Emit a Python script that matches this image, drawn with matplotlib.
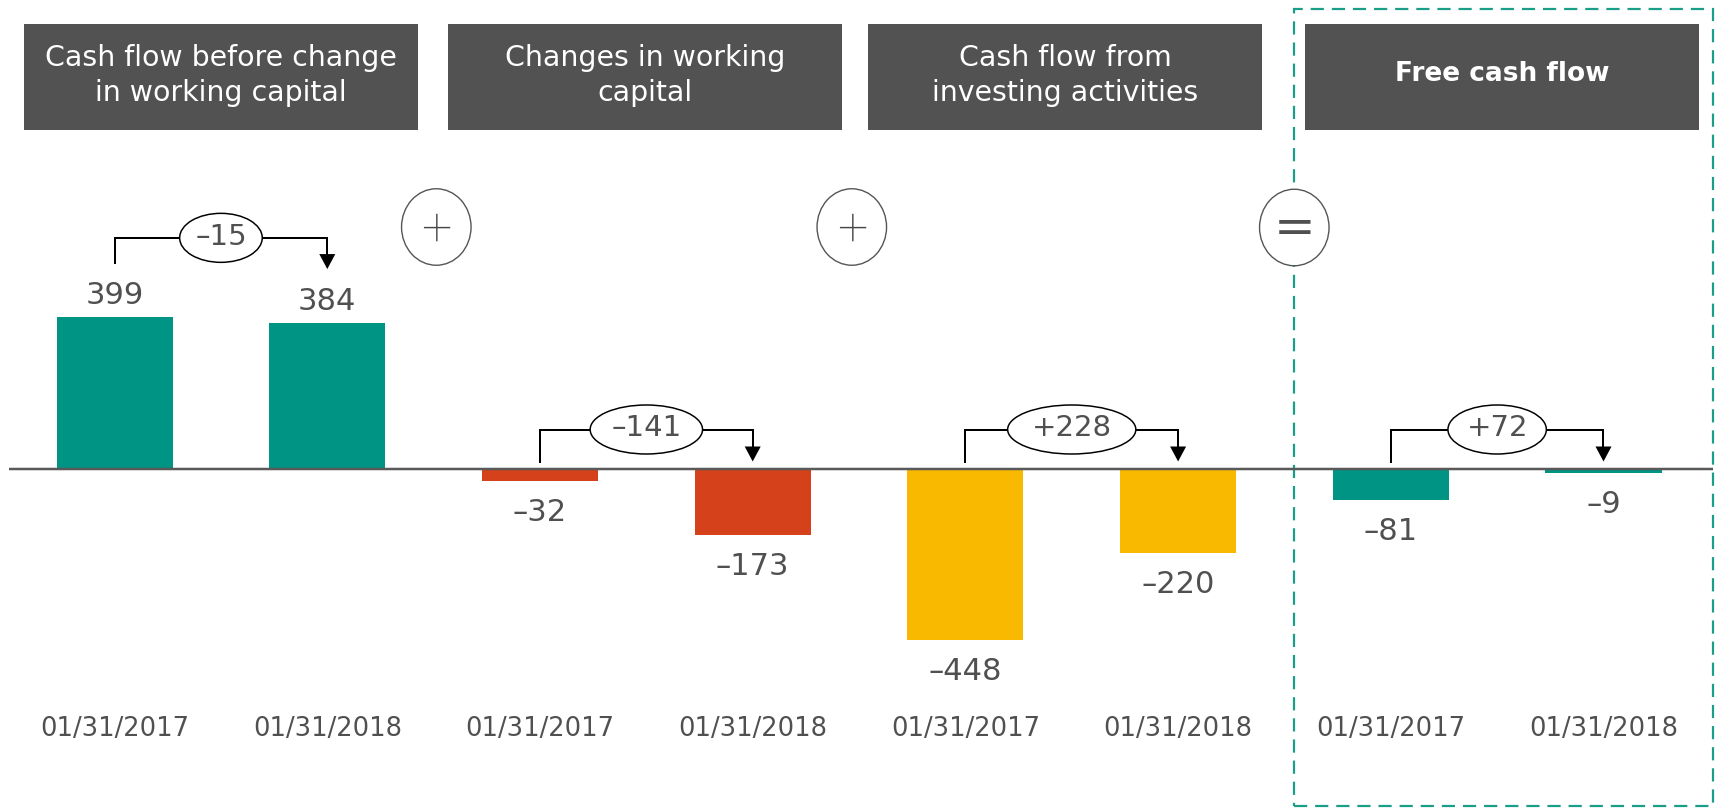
import matplotlib
matplotlib.use("Agg")
import matplotlib.pyplot as plt
from matplotlib.patches import Rectangle, Ellipse, Polygon

# ---------------- data ----------------
categories = ["Cash flow before change\nin working capital",
              "Changes in working\ncapital",
              "Cash flow from\ninvesting activities",
              "Free cash flow"]
periods = ["01/31/2017", "01/31/2018"]
values_2017 = [399, -32, -448, -81]
values_2018 = [384, -173, -220, -9]
operators = ["+", "+", "="]
group_colors = ["#009485", "#d5411a", "#f9b900", "#009485"]

# ---------------- layout ----------------
W, H, DPI = 1719, 809, 100
fig = plt.figure(figsize=(W / DPI, H / DPI), dpi=DPI)
ax = fig.add_axes([0, 0, 1, 1])
ax.axis("off")

X0, SX = 114.6, 212.7      # pixel x of first slot, pixels per slot
Y0, SY = 469.2, 0.3816     # pixel y (from top) of zero, pixels per unit
ax.set_xlim(-X0 / SX, (W - X0) / SX)
ax.set_ylim((Y0 - H) / SY, Y0 / SY)


def px_x(p):
    return (p - X0) / SX


def px_y(p):
    return (Y0 - p) / SY


def wx(p):
    return p / SX


def hy(p):
    return p / SY


TEXT = "#505050"
PT = 72.0 / DPI  # points per pixel


def fmt(v, sign=False):
    s = f"{abs(v)}"
    if v < 0:
        return "\u2013" + s
    return ("+" + s) if sign else s


# header boxes
box_left = [24, 448, 868, 1305]
box_w, box_top, box_bot = 394, 24, 129.5
for i, cat in enumerate(categories):
    ax.add_patch(Rectangle((px_x(box_left[i]), px_y(box_bot)), wx(box_w), hy(box_bot - box_top),
                           facecolor="#525252", edgecolor="none", zorder=2))
    bold = (i == len(categories) - 1)
    ax.text(px_x(box_left[i] + box_w / 2), px_y((box_top + box_bot) / 2 - (3 if bold else 1)), cat,
            ha="center", va="center", multialignment="center", color="white",
            fontsize=19 if bold else 20.4, fontweight="bold" if bold else "normal",
            linespacing=1.3, zorder=3)

# bars
bar_w = 0.546
for g in range(len(categories)):
    for k, vals in enumerate([values_2017, values_2018]):
        x = 2 * g + k
        v = vals[g]
        ax.bar(x, v, width=bar_w, color=group_colors[g], zorder=2)
        if v >= 0:
            ax.annotate(fmt(v), (x, v), xytext=(0, 12.7 * PT), textcoords="offset points",
                        ha="center", va="baseline", fontsize=22, color=TEXT, zorder=4)
        else:
            ax.annotate(fmt(v), (x, v), xytext=(0, -40 * PT), textcoords="offset points",
                        ha="center", va="baseline", fontsize=22, color=TEXT, zorder=4)
        ax.text(x, px_y(736), periods[k], ha="center", va="baseline", fontsize=18.5, color=TEXT)

# zero line
ax.plot([px_x(9), px_x(1713)], [0, 0], color="#595959", lw=2.5 * PT, zorder=3,
        solid_capstyle="butt")

# dashed highlight box
ax.add_patch(Rectangle((px_x(1294), px_y(806)), wx(1713 - 1294), hy(806 - 8.5),
                       facecolor="none", edgecolor="#1a9e87", lw=2.2 * PT,
                       linestyle=(0, (6, 3.6)), zorder=1))

# operators
op_pos = [(436.3, 227), (851.8, 227), (1294.3, 227.5)]
for op, (ox, oy) in zip(operators, op_pos):
    ax.add_patch(Ellipse((px_x(ox), px_y(oy)), wx(69.5), hy(76.5), facecolor="white",
                         edgecolor="#555555", lw=1.0, zorder=5))
    if op == "+":
        ax.text(px_x(ox), px_y(oy + 0.33 * 54), op, ha="center", va="baseline",
                fontsize=54 * PT, color="#454545", family=["Roboto", "DejaVu Sans"],
                fontweight="light", zorder=6)
    else:
        ax.text(px_x(ox), px_y(oy + 0.32 * 50), op, ha="center", va="baseline",
                fontsize=50 * PT, color="#505050", zorder=6)

# delta brackets
fig.canvas.draw()
renderer = fig.canvas.get_renderer()
for g in range(len(categories)):
    a, b = values_2017[g], values_2018[g]
    xl, xr = 2 * g, 2 * g + 1
    sl = max(a, 0) + (hy(53.6) if a > 0 else hy(7.7))
    sr = max(b, 0) + (hy(53.6) if b > 0 else hy(7.7))
    top = max(sl, sr) + (hy(25.5) if max(a, b) > 0 else hy(32))
    lw = 2.0 * PT
    head_h, head_w = hy(15), wx(16)
    ax.plot([xl, xl, xr, xr], [sl, top, top, sr + head_h], color="black", lw=lw, zorder=5,
            solid_joinstyle="miter")
    ax.add_patch(Polygon([[xr - head_w / 2, sr + head_h], [xr + head_w / 2, sr + head_h], [xr, sr]],
                         closed=True, facecolor="black", edgecolor="none", zorder=5))
    xm = (xl + xr) / 2
    t = ax.text(xm, top - hy(7), fmt(b - a, sign=True), ha="center", va="baseline",
                fontsize=21, color=TEXT, zorder=7)
    tw = t.get_window_extent(renderer).width
    ax.add_patch(Ellipse((xm, top), wx(1.6 * tw), hy(49), facecolor="white",
                         edgecolor="black", lw=1.5 * PT, zorder=6))

fig.savefig("out.png", dpi=DPI, facecolor="white")
